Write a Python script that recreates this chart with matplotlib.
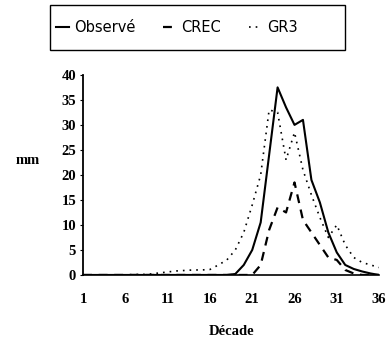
import numpy as np
import matplotlib
matplotlib.use("Agg")
import matplotlib.pyplot as plt
from matplotlib.patches import Rectangle

# Décades 1 à 36
decades = list(range(1, 37))

# Débits (mm)
observe = [0, 0, 0, 0, 0, 0, 0, 0, 0, 0,
           0, 0, 0, 0, 0, 0, 0, 0, 0.2, 2,
           5, 10.5, 24, 37.5, 33.5, 30, 31, 19, 14.5, 8.5,
           4.5, 2, 1.2, 0.7, 0.3, 0]
crec = [0, 0, 0, 0, 0, 0, 0, 0, 0, 0,
        0, 0, 0, 0, 0, 0, 0, 0, 0, 0,
        0, 2, 9, 13.5, 12.5, 18.5, 11, 8.5, 6, 3.5,
        3, 1, 0.3, 0, 0, 0]
gr3 = [0, 0, 0, 0, 0, 0, 0.1, 0.1, 0.2, 0.4,
       0.6, 0.8, 0.9, 1, 1, 1.1, 2, 3, 5, 8.5,
       14, 20, 33, 32.5, 23, 28.5, 21, 16, 11.5, 7.5,
       10, 6, 3.5, 2.5, 2, 1.5]

xticks = [1, 6, 11, 16, 21, 26, 31, 36]
yticks = [0, 5, 10, 15, 20, 25, 30, 35, 40]

serif = "Liberation Serif"

fig = plt.figure(figsize=(3.92, 3.45), dpi=100)
ax = fig.add_axes([0.212, 0.203, 0.755, 0.58])

ax.plot(decades, observe, color="black", lw=1.5, ls="-", label="Observé")
ax.plot(decades, crec, color="black", lw=1.6, ls=(0, (4, 3)), label="CREC")
ax.plot(decades, gr3, color="black", lw=1.2, ls=(0, (1, 3)), label="GR3")

ax.set_xlim(1, 36)
ax.set_ylim(0, 40)
ax.set_xticks(xticks)
ax.set_yticks(yticks)
ax.tick_params(length=2, width=0.8, pad=3)
for lab in ax.get_xticklabels() + ax.get_yticklabels():
    lab.set_fontfamily(serif)
    lab.set_fontweight("bold")
    lab.set_fontsize(10.5)
ax.tick_params(axis="x", length=0, pad=13)

ax.spines["top"].set_visible(False)
ax.spines["right"].set_visible(False)
ax.spines["left"].set_linewidth(1.3)
ax.spines["bottom"].set_linewidth(1.2)

ax.set_xlabel("Décade", fontfamily=serif, fontweight="bold", fontsize=10.5, labelpad=14)
fig.text(0.07, 0.535, "mm", fontfamily=serif, fontweight="bold", fontsize=10.5,
         ha="center", va="center")

# cadre de la légende
fig.add_artist(Rectangle((0.128, 0.855), 0.752, 0.131, transform=fig.transFigure,
                         fill=False, edgecolor="black", lw=1.0))
leg = fig.legend(loc="center left", bbox_to_anchor=(0.142, 0.92),
                 ncol=3, frameon=False, handlelength=0.9, handletextpad=0.35,
                 columnspacing=1.9, borderaxespad=0, borderpad=0,
                 prop={"family": "DejaVu Sans", "size": 10.5})

fig.savefig("out.png", dpi=100)
